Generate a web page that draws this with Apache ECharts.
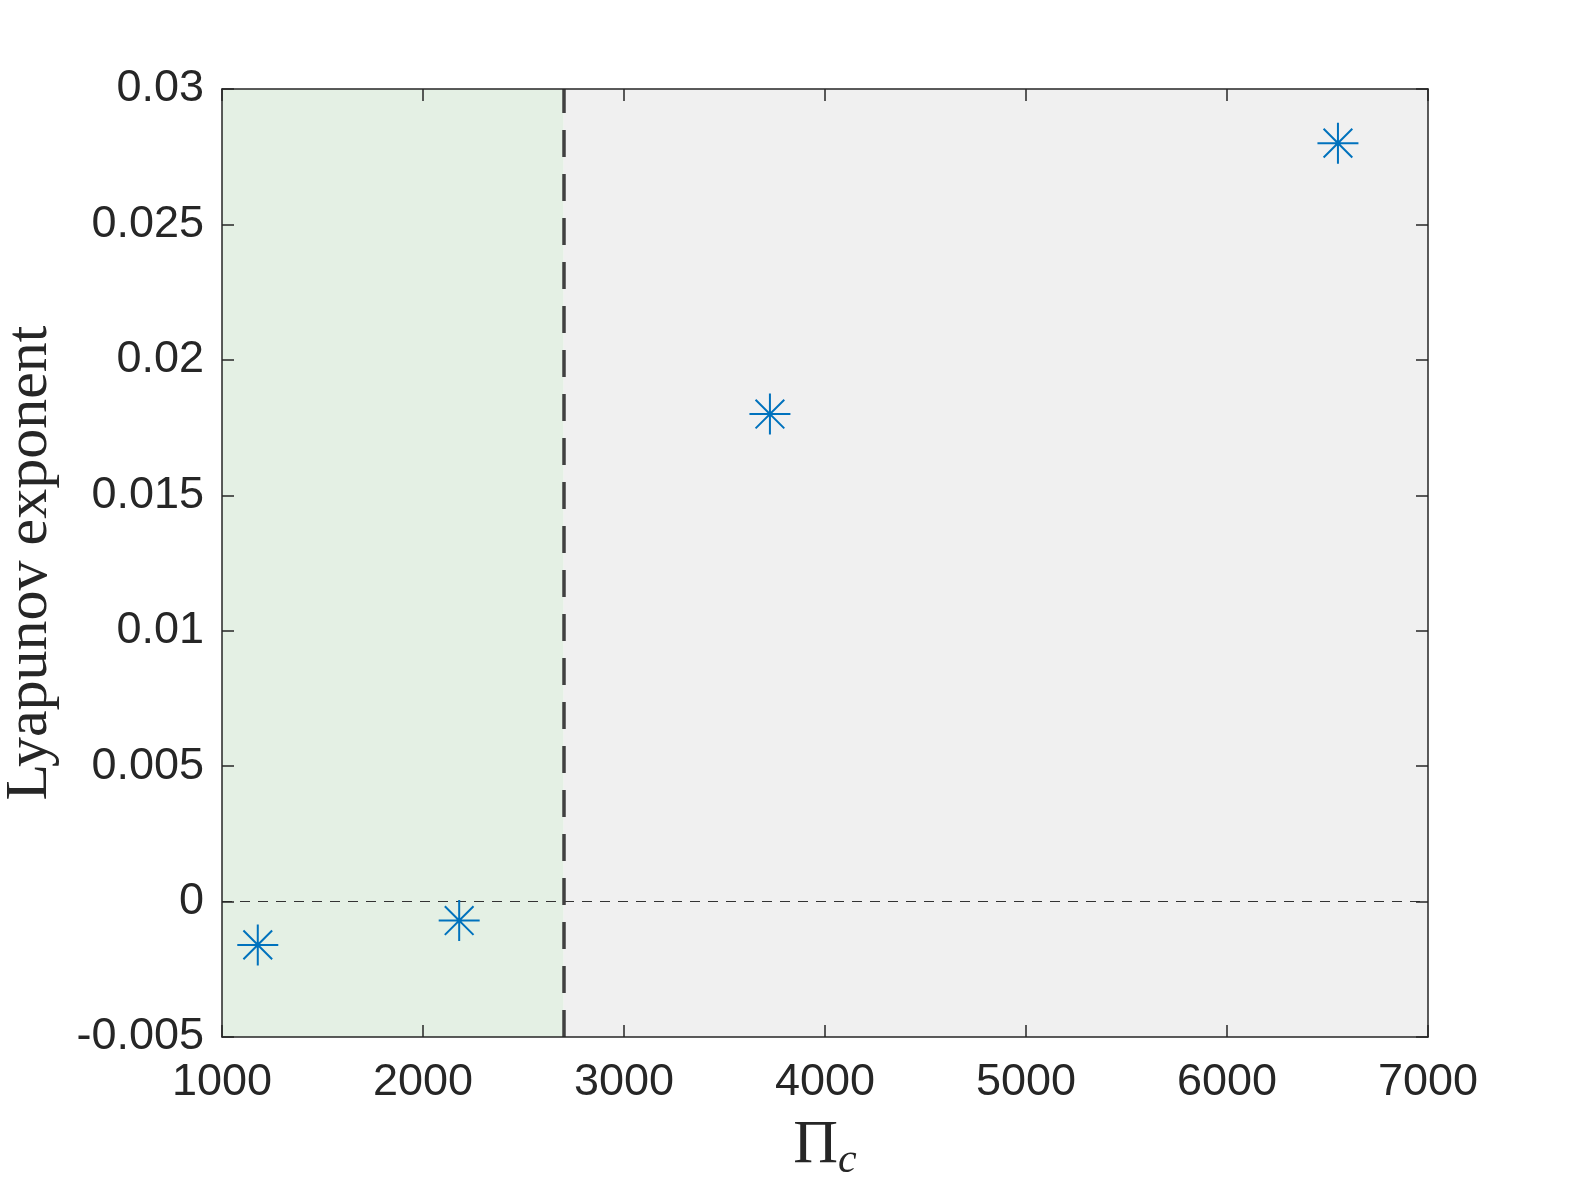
<!DOCTYPE html>
<html>
<head>
<meta charset="utf-8">
<script src="https://cdn.jsdelivr.net/npm/echarts@6/dist/echarts.min.js"></script>
<style>
  html, body { margin: 0; padding: 0; background: #fff; }
  #chart { width: 1578px; height: 1183px; }
</style>
</head>
<body>
<div id="chart"></div>
<script>
// --- data ---
const piValues = [1178, 2180, 3726, 6552];
const lyapunov = [-0.0016, -0.0007, 0.018, 0.028];
const thresholdX = 2700;
const xRange = [1000, 7000];
const yRange = [-0.005, 0.03];

const axisColor = '#262626';
const starPath = 'path://M0,-10L0,10M-10,0L10,0M-7,-7L7,7M-7,7L7,-7';

function fmtY(v) {
    if (Math.abs(v) < 1e-12) return '0';
    return String(+v.toFixed(3));
}

const chart = echarts.init(document.getElementById('chart'));

const baseAxis = {
    axisLine: { show: true, onZero: false, lineStyle: { color: axisColor, width: 1.5 } },
    axisTick: { show: true, inside: true, length: 12, lineStyle: { color: axisColor, width: 1.5 } },
    splitLine: { show: false },
    z: 10
};

const option = {
    backgroundColor: '#ffffff',
    animation: false,
    grid: { left: 222, top: 89, right: 150, bottom: 146, outerBoundsMode: 'none', containLabel: false },
    xAxis: [
        Object.assign({}, baseAxis, {
            type: 'value', position: 'bottom',
            min: xRange[0], max: xRange[1], interval: 1000,
            axisLabel: { color: axisColor, fontSize: 45, fontFamily: 'Liberation Sans', margin: 23,
                         formatter: v => String(v) },
            name: '{a|Π}{b|c}',
            nameLocation: 'middle',
            nameGap: 72,
            nameTextStyle: {
                rich: {
                    a: { fontFamily: 'Liberation Serif', fontSize: 62, color: axisColor, lineHeight: 70 },
                    b: { fontFamily: 'Liberation Serif', fontStyle: 'italic', fontSize: 42, color: axisColor,
                         lineHeight: 70, padding: [30, 0, 0, 0] }
                }
            }
        }),
        Object.assign({}, baseAxis, {
            type: 'value', position: 'top',
            min: xRange[0], max: xRange[1], interval: 1000,
            axisLabel: { show: false }
        })
    ],
    yAxis: [
        Object.assign({}, baseAxis, {
            type: 'value', position: 'left',
            min: yRange[0], max: yRange[1], interval: 0.005,
            axisLabel: { color: axisColor, fontSize: 45, fontFamily: 'Liberation Sans', margin: 18, formatter: fmtY },
            name: 'Lyapunov exponent',
            nameLocation: 'middle',
            nameGap: 162,
            nameTextStyle: { fontFamily: 'Liberation Serif', fontSize: 60, color: axisColor }
        }),
        Object.assign({}, baseAxis, {
            type: 'value', position: 'right',
            min: yRange[0], max: yRange[1], interval: 0.005,
            axisLabel: { show: false }
        })
    ],
    series: [
        {
            // shaded regions
            type: 'scatter',
            data: [],
            silent: true,
            z: 1,
            markArea: {
                silent: true,
                itemStyle: { opacity: 1 },
                data: [
                    [{ xAxis: xRange[0], yAxis: yRange[0], itemStyle: { color: '#e4f0e4' } },
                     { xAxis: thresholdX, yAxis: yRange[1] }],
                    [{ xAxis: thresholdX, yAxis: yRange[0], itemStyle: { color: '#f0f0f0' } },
                     { xAxis: xRange[1], yAxis: yRange[1] }]
                ]
            }
        },
        {
            // reference lines
            type: 'scatter',
            data: [],
            silent: true,
            z: 3,
            markLine: {
                silent: true,
                symbol: 'none',
                label: { show: false },
                data: [
                    { yAxis: 0, lineStyle: { color: '#333333', width: 1.2, type: [10, 8] } },
                    { xAxis: thresholdX, lineStyle: { color: '#404040', width: 3.5, type: [27, 17], dashOffset: 0 } }
                ]
            }
        },
        {
            type: 'scatter',
            z: 5,
            data: piValues.map((x, i) => [x, lyapunov[i]]),
            symbol: starPath,
            symbolSize: 41,
            itemStyle: { color: 'rgba(0,0,0,0)', borderColor: '#0072BD', borderWidth: 2, opacity: 1 }
        }
    ]
};

chart.setOption(option);
</script>
</body>
</html>
